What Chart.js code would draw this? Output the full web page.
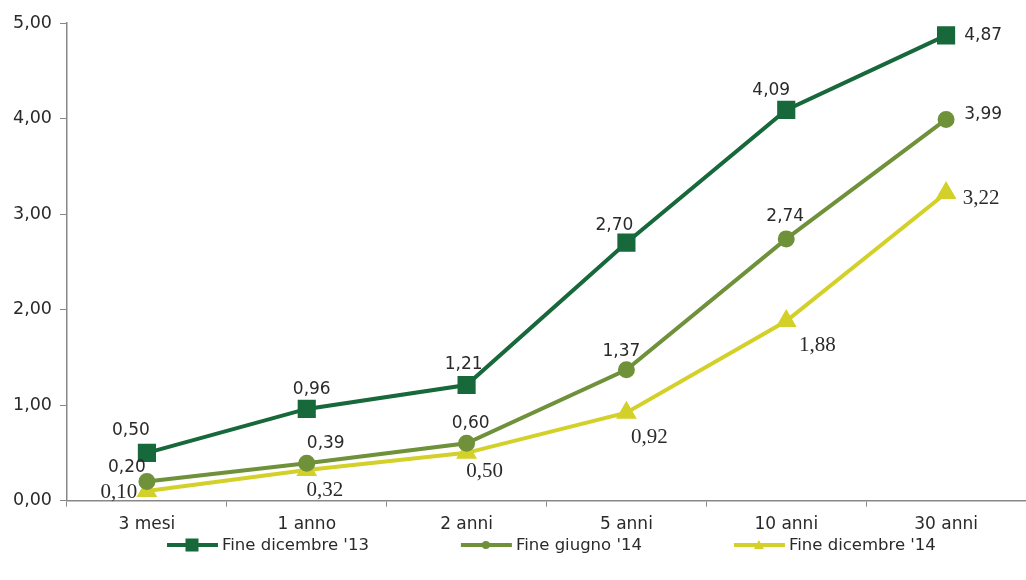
<!DOCTYPE html>
<html>
<head>
<meta charset="utf-8">
<script src="https://cdn.jsdelivr.net/npm/chart.js@4/dist/chart.umd.min.js"></script>
<style>
  html, body { margin: 0; padding: 0; background: #fff; }
  #wrap { width: 1026px; height: 580px; }
</style>
</head>
<body>
<div id="wrap"><canvas id="curveChart"></canvas></div>
<script>
// Data
const categories = ["3 mesi", "1 anno", "2 anni", "5 anni", "10 anni", "30 anni"];
const dic13 = [0.50, 0.96, 1.21, 2.70, 4.09, 4.87];
const giu14 = [0.20, 0.39, 0.60, 1.37, 2.74, 3.99];
const dic14 = [0.10, 0.32, 0.50, 0.92, 1.88, 3.22];
const seriesNames = ["Fine dicembre '13", "Fine giugno '14", "Fine dicembre '14"];
const yTicks = [0, 1, 2, 3, 4, 5];

// Colours
const darkGreen = "#17683b";
const olive = "#6f913a";
const yellow = "#d4d02a";
const textColor = "#2a2a2a";
const sans = "'DejaVu Sans', Verdana, sans-serif";

// where each value label sits, relative to its point (dx, dy in px)
const labelOffsets = [
    [[-16, -22], [5, -19], [-3, -20], [-12, -17], [-15, -19], [37, 0]],
    [[-20, -14], [19, -20], [4, -20], [-5, -18], [-1, -22], [37, -5]],
    [[-28, 1], [18, 20], [18, 19], [23, 25], [31, 24], [35, 5]]
];
const labelFonts = ["17px " + sans, "17px " + sans, "21px 'Liberation Serif', 'Times New Roman', serif"];

const fmt = v => v.toFixed(2).replace('.', ',');

// legend icon: line with marker in the middle
function drawIcon(g, x, y, color, style, r) {
    g.strokeStyle = color; g.lineWidth = 4;
    g.beginPath(); g.moveTo(x, y); g.lineTo(x + 51, y); g.stroke();
    g.fillStyle = color;
    const cx = x + 25;
    if (style === 'rect') { g.fillRect(cx - r, y - r, 2 * r, 2 * r); }
    else if (style === 'circle') { g.beginPath(); g.arc(cx, y, r, 0, Math.PI * 2); g.fill(); }
    else { g.beginPath(); g.moveTo(cx, y - r); g.lineTo(cx + r, y + r * 0.8); g.lineTo(cx - r, y + r * 0.8); g.closePath(); g.fill(); }
}
const legendMarks = [['rect', 6.5], ['circle', 4], ['triangle', 5]];

const valueLabels = {
    id: 'valueLabels',
    afterDatasetsDraw(chart) {
        const ctx = chart.ctx;
        ctx.save();
        ctx.fillStyle = textColor;
        ctx.textAlign = 'center';
        ctx.textBaseline = 'middle';
        chart.data.datasets.forEach((ds, i) => {
            const meta = chart.getDatasetMeta(i);
            ctx.font = labelFonts[i];
            meta.data.forEach((pt, j) => {
                const off = labelOffsets[i][j];
                ctx.fillText(fmt(ds.data[j]), pt.x + off[0], pt.y + off[1]);
            });
        });
        ctx.restore();
    }
};

// legend under the axis: icon + text, fixed gap between items
const lineLegend = {
    id: 'lineLegend',
    afterDraw(chart) {
        const ctx = chart.ctx;
        ctx.save();
        ctx.font = "16.5px " + sans;
        ctx.textBaseline = 'middle';
        ctx.textAlign = 'left';
        const gap = 92;
        let x = 167;
        const y = 545;
        chart.data.datasets.forEach((ds, i) => {
            drawIcon(ctx, x, y, ds.borderColor, legendMarks[i][0], legendMarks[i][1]);
            ctx.fillStyle = textColor;
            ctx.fillText(ds.label, x + 55, y + 1);
            x += 55 + ctx.measureText(ds.label).width + gap;
        });
        ctx.restore();
    }
};

const ctx = document.getElementById('curveChart').getContext('2d');

new Chart(ctx, {
    type: 'line',
    data: {
        labels: categories,
        datasets: [
            { label: seriesNames[0], data: dic13, borderColor: darkGreen, backgroundColor: darkGreen,
              borderWidth: 4, pointStyle: 'rect', pointRadius: 10, pointHoverRadius: 10, tension: 0 },
            { label: seriesNames[1], data: giu14, borderColor: olive, backgroundColor: olive,
              borderWidth: 4, pointStyle: 'circle', pointRadius: 6.5, pointHoverRadius: 6.5, tension: 0 },
            { label: seriesNames[2], data: dic14, borderColor: yellow, backgroundColor: yellow,
              borderWidth: 4, pointStyle: 'triangle', pointRadius: 8, pointHoverRadius: 8, tension: 0 }
        ]
    },
    options: {
        responsive: true,
        maintainAspectRatio: false,
        animation: false,
        layout: { autoPadding: false, padding: { top: 23, right: 0, bottom: 37, left: 0 } },
        plugins: {
            tooltip: { enabled: false },
            legend: { display: false }
        },
        scales: {
            x: {
                offset: true,
                grid: { display: true, offset: true, drawOnChartArea: false, drawTicks: true, tickLength: 6, color: '#888' },
                border: { display: true, color: '#888', width: 1.5 },
                ticks: { color: textColor, padding: 8, font: { family: sans, size: 17 } }
            },
            y: {
                min: 0,
                max: 5,
                afterBuildTicks(scale) { scale.ticks = yTicks.map(v => ({ value: v })); },
                afterFit(scale) { scale.width = 67; },
                grid: { display: true, drawOnChartArea: false, drawTicks: true, tickLength: 7, color: '#888' },
                border: { display: true, color: '#888', width: 1.5 },
                ticks: { color: textColor, padding: 8, font: { family: sans, size: 17.5 },
                         callback: v => fmt(v) }
            }
        }
    },
    plugins: [valueLabels, lineLegend]
});
</script>
</body>
</html>
